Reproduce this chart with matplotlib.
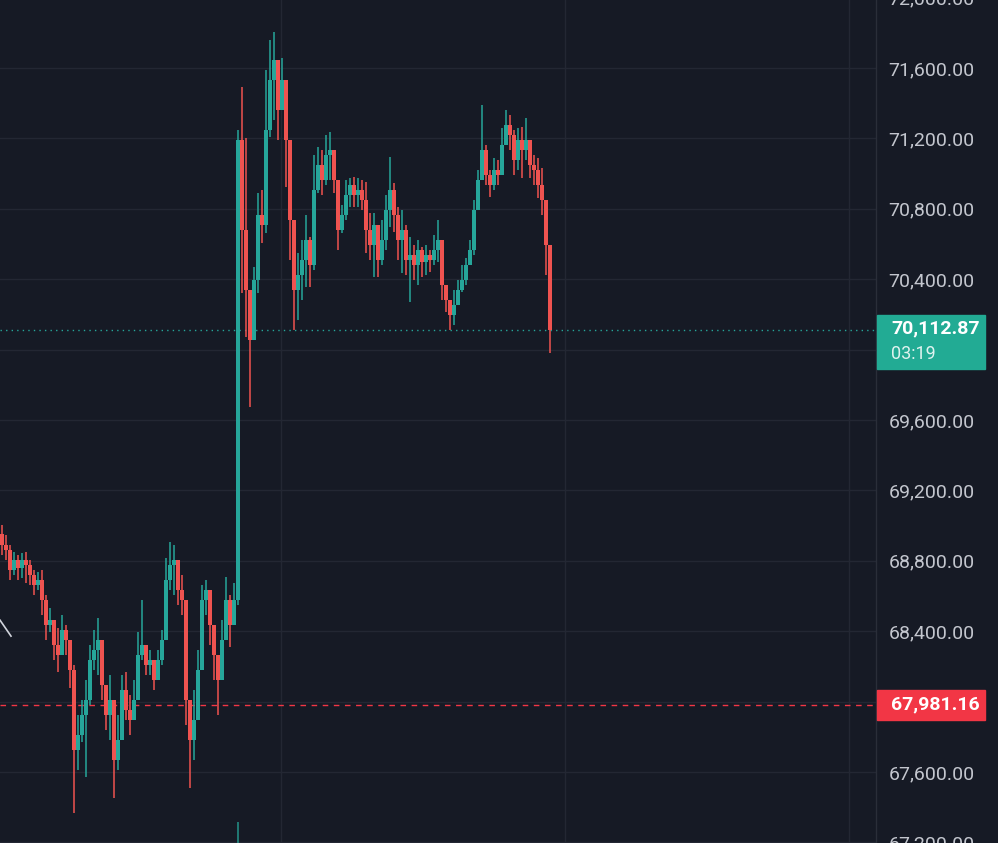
import numpy as np
import matplotlib
matplotlib.use("Agg")
import matplotlib.pyplot as plt
from matplotlib.patches import Rectangle
from matplotlib.transforms import blended_transform_factory
from matplotlib.ticker import FuncFormatter

plt.rcParams['font.family'] = ['Roboto', 'DejaVu Sans']

# one-minute candles
first_open = 68950
closes = [
    68889, 68861, 68747, 68804, 68759, 68804, 68776, 68719, 68662, 68690,
    68577, 68435, 68463, 68321, 68264, 68406, 68350, 68179, 67724, 67810,
    67923, 68009, 68236, 68293, 68350, 68094, 67923, 68009, 67668, 67781,
    68065, 67952, 67895, 68009, 68264, 68321, 68207, 68236, 68122, 68236,
    68350, 68690, 68776, 68804, 68634, 68577, 68009, 67781, 67895, 68179,
    68577, 68634, 68435, 68264, 68122, 68350, 68577, 68435, 68577, 71191,
    70679, 70338, 70054, 70395, 70764, 70708, 71247, 71531, 71645, 71361,
    71531, 71191, 70736, 70338, 70423, 70509, 70622, 70480, 70906, 71048,
    70963, 71105, 71134, 70963, 70679, 70764, 70878, 70935, 70878, 70906,
    70850, 70679, 70594, 70708, 70509, 70622, 70793, 70906, 70764, 70622,
    70679, 70509, 70537, 70480, 70566, 70497, 70537, 70509, 70566, 70622,
    70367, 70281, 70196, 70253, 70338, 70395, 70480, 70566, 70793, 70963,
    71134, 70992, 70935, 71020, 70992, 71162, 71276, 71219, 71077, 71191,
    71134, 71191, 71048, 71020, 70935, 70850, 70594, 70112.87,
]
highs = [
    69003, 68946, 68889, 68850, 68832, 68844, 68850, 68804, 68747, 68736,
    68747, 68605, 68531, 68435, 68418, 68492, 68435, 68350, 68207, 67923,
    68009, 68122, 68321, 68406, 68475, 68236, 68065, 68151, 68009, 67923,
    68151, 68168, 68037, 68122, 68395, 68577, 68293, 68293, 68236, 68293,
    68406, 68815, 68906, 68889, 68747, 68719, 68577, 67923, 68065, 68293,
    68662, 68690, 68605, 68406, 68264, 68463, 68707, 68605, 68673, 71247,
    71492, 71202, 70321, 70469, 70889, 70906, 71588, 71759, 71804, 71588,
    71656, 71492, 70963, 70622, 70548, 70622, 70764, 70639, 71105, 71151,
    71134, 71219, 71236, 71077, 70963, 70821, 70963, 70975, 70980, 70975,
    70963, 70952, 70776, 70776, 70708, 70736, 70878, 71094, 70946, 70810,
    70793, 70708, 70639, 70594, 70622, 70583, 70594, 70566, 70651, 70736,
    70594, 70367, 70281, 70338, 70395, 70480, 70520, 70622, 70850, 71020,
    71389, 71162, 71020, 71088, 71077, 71259, 71361, 71333, 71247, 71259,
    71264, 71316, 71145, 71105, 71088, 71031, 70850, 70452,
]
lows = [
    68832, 68804, 68690, 68719, 68690, 68702, 68673, 68662, 68605, 68634,
    68492, 68350, 68395, 68236, 68168, 68293, 68264, 68077, 67367, 67611,
    67770, 67571, 67980, 68179, 68151, 68009, 67838, 67781, 67452, 67611,
    67895, 67895, 67810, 67895, 68190, 68236, 68151, 68151, 68065, 68122,
    68207, 68520, 68634, 68605, 68548, 68492, 67867, 67509, 67668, 67980,
    68350, 68492, 68321, 68122, 67923, 68190, 68463, 68310, 68435, 68548,
    70321, 70071, 69673, 70139, 70321, 70605, 70662, 71208, 71304, 71191,
    71389, 70923, 70509, 70111, 70168, 70281, 70355, 70355, 70452, 70889,
    70878, 70935, 70963, 70889, 70566, 70662, 70736, 70810, 70810, 70810,
    70793, 70548, 70509, 70412, 70412, 70480, 70566, 70696, 70668, 70509,
    70435, 70423, 70270, 70395, 70367, 70412, 70423, 70440, 70480, 70497,
    70281, 70213, 70111, 70139, 70253, 70327, 70367, 70480, 70537, 70821,
    70963, 70935, 70867, 70906, 70935, 71048, 71191, 71134, 70992, 71020,
    70975, 71077, 70975, 70935, 70861, 70764, 70423, 69980,
]

last_price = 70112.87
countdown = "03:19"
ref_price = 67981.16
price_ticks = [67200, 67600, 68000, 68400, 68800, 69200, 69600, 70000,
               70400, 70800, 71200, 71600, 72000]
hidden_ticks = [68000, 70000]  # covered by the price boxes
time_grid = [69.75, 140.75, 211.75]
trend_x = [-0.5, 2.25]
trend_y = [68463, 68372]
vol_spike_x = 59
vol_spike_top = 67315

UP = "#26a69a"
DOWN = "#ef5350"
BG = "#161a25"
GRID = "#232733"
TXT = "#c3c6ce"

W, H = 998, 843
YMIN, YMAX = 67139.8, 72043.2
fig = plt.figure(figsize=(W / 100, H / 100), dpi=100, facecolor=BG)
# axes runs a little beyond the figure so edge labels get cut like the screenshot
ax = fig.add_axes([0, -10 / H, 876 / W, 863 / H], facecolor=BG)

closes = np.array(closes, dtype=float)
highs = np.array(highs, dtype=float)
lows = np.array(lows, dtype=float)
opens = np.concatenate([[first_open], closes[:-1]])
x = np.arange(len(closes))
up = closes >= opens
col = np.where(up, UP, DOWN)

hi = np.maximum(highs, np.maximum(opens, closes))
lo = np.minimum(lows, np.minimum(opens, closes))

ax.vlines(x, lo, hi, colors=col, linewidth=1.1, zorder=3)
body_lo = np.minimum(opens, closes)
body_h = np.maximum(np.abs(closes - opens), 6)
ax.bar(x, body_h, bottom=body_lo, width=0.8, color=col, linewidth=0, zorder=3)

ax.set_xlim(-0.5, 218.5)
ax.set_ylim(YMIN, YMAX)

# grid
for p in price_ticks:
    ax.axhline(p, color=GRID, linewidth=1, zorder=0)
for t in time_grid:
    ax.axvline(t, color=GRID, linewidth=1, zorder=0)

# price lines
ax.axhline(last_price, color=UP, linewidth=1, linestyle=(0, (1, 3)), zorder=2)
ax.axhline(ref_price, color="#f23645", linewidth=1, linestyle=(0, (4, 4)), zorder=2)

# drawing + volume spike
ax.plot(trend_x, trend_y, color="#d1d4dc", linewidth=1.2, zorder=4)
ax.vlines(vol_spike_x, YMIN, vol_spike_top, colors=UP, linewidth=1.2, alpha=0.8, zorder=1)

for s in ["top", "bottom", "left"]:
    ax.spines[s].set_visible(False)
ax.spines["right"].set_color("#2a2e39")
ax.spines["right"].set_linewidth(1)

ax.xaxis.set_visible(False)
ax.yaxis.tick_right()
ax.set_yticks(price_ticks)
ax.yaxis.set_major_formatter(
    FuncFormatter(lambda v, _: "" if v in hidden_ticks else f"{v:,.2f}"))
ax.tick_params(axis="y", length=0, pad=9, labelsize=14, labelcolor=TXT)

# price labels on the scale
tr = blended_transform_factory(fig.transFigure, ax.transData)
upp = (YMAX - YMIN) / 863.0  # price units per pixel
ax.add_patch(Rectangle((877 / W, last_price - 39 * upp), 108 / W, 54 * upp,
                       transform=tr, color="#22ab94", clip_on=False, zorder=5))
fig.text(891 / W, last_price + 1 * upp, "70,112.87", transform=tr, color="white",
         fontsize=14, fontweight="bold", va="center", ha="left", zorder=6)
fig.text(891 / W, last_price - 24 * upp, countdown, transform=tr, color="#dff3ef",
         fontsize=13, va="center", ha="left", zorder=6)

ax.add_patch(Rectangle((877 / W, ref_price - 15 * upp), 108 / W, 30 * upp,
                       transform=tr, color="#f23645", clip_on=False, zorder=5))
fig.text(891 / W, ref_price, "67,981.16", transform=tr, color="white", fontsize=14,
         fontweight="bold", va="center", ha="left", zorder=6)

fig.savefig("out.png", dpi=100, facecolor=BG)
